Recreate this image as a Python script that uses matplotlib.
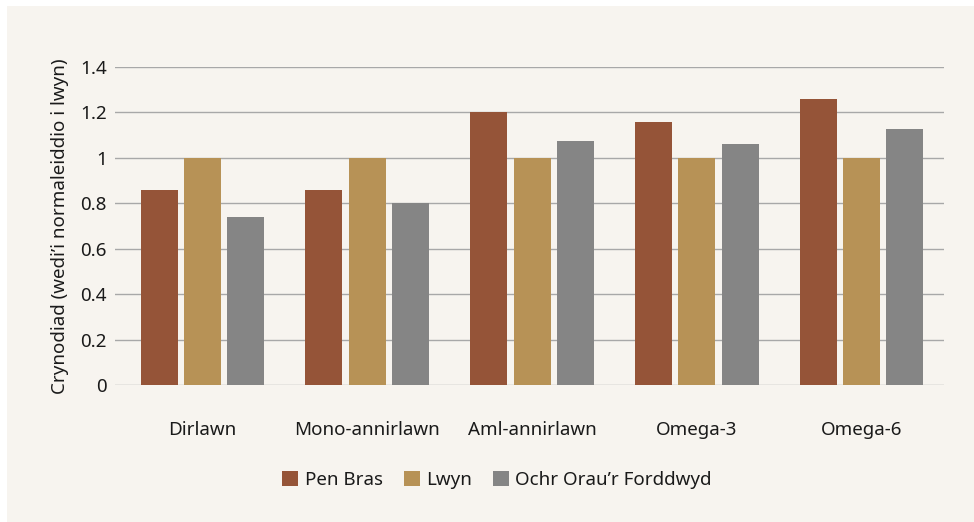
import numpy as np
import matplotlib.pyplot as plt
from matplotlib.patches import Rectangle

plt.rcParams['font.family'] = ['Noto Sans', 'DejaVu Sans']

categories = ["Dirlawn", "Mono-annirlawn", "Aml-annirlawn", "Omega-3", "Omega-6"]
series_names = ["Pen Bras", "Lwyn", "Ochr Orau\u2019r Forddwyd"]
pen_bras = [0.86, 0.86, 1.20, 1.16, 1.26]
lwyn = [1.00, 1.00, 1.00, 1.00, 1.00]
ochr_orau = [0.74, 0.80, 1.075, 1.06, 1.125]
y_ticks = [0, 0.2, 0.4, 0.6, 0.8, 1.0, 1.2, 1.4]
y_tick_labels = ["0", "0.2", "0.4", "0.6", "0.8", "1", "1.2", "1.4"]

colors = ["#955438", "#b79256", "#858585"]
bg = "#f7f4ef"
text_color = "#1a1a1a"

fig = plt.figure(figsize=(9.74, 5.22), dpi=100)
fig.patches.append(Rectangle((7 / 974, 0), 1, 1 - 6 / 522, transform=fig.transFigure,
                             facecolor=bg, edgecolor="none", zorder=-10))

ax = fig.add_axes([115 / 974, 1 - 385 / 522, (944 - 115) / 974, (385 - 67) / 522])
ax.patch.set_alpha(0)

x = np.arange(len(categories))
width = 0.225
step = 0.263
for i, (vals, name) in enumerate(zip([pen_bras, lwyn, ochr_orau], series_names)):
    ax.bar(x + (i - 1) * step, vals, width, color=colors[i], label=name, zorder=3)

ax.set_ylim(0, 1.4)
ax.set_xlim(-0.531, 4.50)
ax.set_yticks(y_ticks)
ax.set_yticklabels(y_tick_labels)
ax.set_xticks(x)
ax.set_xticklabels(categories)
ax.grid(axis="y", color="#a8a8a8", linewidth=1.0, zorder=0)
ax.tick_params(axis="both", length=0, labelsize=13.5, labelcolor=text_color)
ax.tick_params(axis="y", pad=6)
ax.tick_params(axis="x", pad=26)
for s in ax.spines.values():
    s.set_visible(False)

ax.set_ylabel("Crynodiad (wedi\u2019i normaleiddio i lwyn)", fontsize=13.5, color=text_color, labelpad=8)

fig.legend(loc="center", bbox_to_anchor=(497 / 974, 1 - 480 / 522), ncol=3, frameon=False,
           fontsize=13.5, handlelength=0.85, handleheight=0.85, handletextpad=0.35, columnspacing=1.1,
           labelcolor=text_color)

fig.savefig("out.png", dpi=100, facecolor="white")
